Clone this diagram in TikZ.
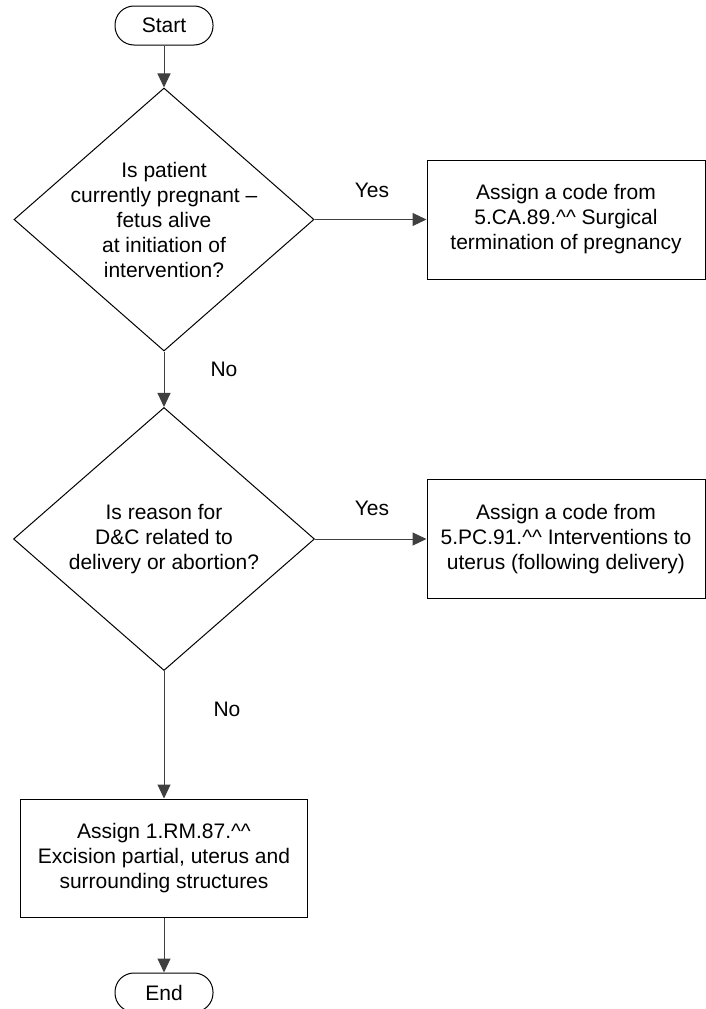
\documentclass[tikz,border=0pt]{standalone}
\usepackage{fontspec}
\setmainfont{Liberation Sans}
\usepackage{tikz}
\usetikzlibrary {arrows.meta,graphs,shapes.geometric}
\usepackage{xcolor}
\definecolor{flowgray}{HTML}{404040}

\begin{document}
\begin{tikzpicture}[x=1pt,y=-1pt,
    flowfont/.style={font=\fontsize{21}{25}\selectfont, align=center}]
\useasboundingbox (0,0) rectangle (706,1009);
\graph [
    nodes={
        draw,
        line width=1pt,
        flowfont,           % Same text size everywhere
        inner sep=0pt       % Sizes come from the minimum width/height
    },
    edges={draw=flowgray, line width=1pt, -{Triangle[length=14pt,width=13pt]}},
    no placement
]
{
    start[at={(164,25.5)}, as=Start, rounded corners=19pt,
          minimum width=98pt, minimum height=39pt]
    -> d1[at={(164,219.5)}, as=, diamond, minimum width=300pt, minimum height=263pt,
          label={[draw=none, flowfont]center:{Is patient\\currently pregnant \textendash\\fetus alive\\at initiation of\\intervention?}}]
    -> d2[at={(164,539)}, as=, diamond, minimum width=301pt, minimum height=263pt,
          label={[draw=none, flowfont]center:{Is reason for\\D\&C related to\\delivery or abortion?}}]
    -> box3[at={(164,858)}, as={Assign 1.RM.87.\textasciicircum\textasciicircum\\Excision partial, uterus and\\surrounding structures},
          minimum width=287pt, minimum height=118pt]
    -> stop[at={(164,992.5)}, as=End, rounded corners=19pt,
          minimum width=98pt, minimum height=39pt];
    d1 -> box1[at={(566,219.5)}, as={Assign a code from\\5.CA.89.\textasciicircum\textasciicircum{} Surgical\\termination of pregnancy},
          minimum width=278pt, minimum height=119pt];
    d2 -> box2[at={(566,539)}, as={Assign a code from\\5.PC.91.\textasciicircum\textasciicircum{} Interventions to\\uterus (following delivery)},
          minimum width=278pt, minimum height=119pt];
    yes1[at={(372,190)}, as=Yes, draw=none],
    yes2[at={(372,508)}, as=Yes, draw=none],
    no1[at={(224,369)}, as=No, draw=none],
    no2[at={(227,709)}, as=No, draw=none];
};
\end{tikzpicture}
\end{document}
